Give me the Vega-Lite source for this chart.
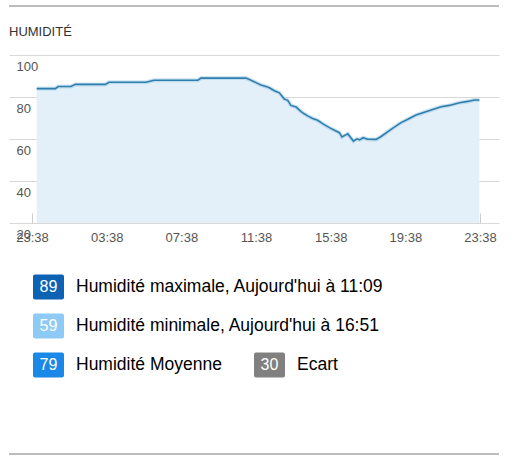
{
  "$schema": "https://vega.github.io/schema/vega-lite/v6.json",
  "padding": {"left": 8, "top": 5, "right": 19, "bottom": 10},
  "background": "white",
  "config": {"font": "Liberation Sans", "view": {"stroke": null}},
  "spacing": 0,
  "bounds": "flush",
  "vconcat": [
    {
      "width": 490,
      "height": 49,
      "data": {"values": [{"edge": "top"}]},
      "mark": {"type": "rule", "stroke": "#bdbdbd", "strokeWidth": 2},
      "encoding": {"y": {"value": 0}}
    },
    {
      "width": 490,
      "height": 168,
      "title": {"text": "HUMIDITÉ", "anchor": "start", "fontSize": 13, "fontWeight": "normal", "color": "#333333", "baseline": "alphabetic", "offset": 6, "font": "Liberation Sans"},
      "data": {"values": [
        {"t": "2024-01-01T23:53", "h": 84},
        {"t": "2024-01-02T00:53", "h": 84},
        {"t": "2024-01-02T01:02", "h": 85},
        {"t": "2024-01-02T01:43", "h": 85},
        {"t": "2024-01-02T01:57", "h": 86},
        {"t": "2024-01-02T03:34", "h": 86},
        {"t": "2024-01-02T03:45", "h": 87},
        {"t": "2024-01-02T05:44", "h": 87},
        {"t": "2024-01-02T06:10", "h": 88},
        {"t": "2024-01-02T08:31", "h": 88},
        {"t": "2024-01-02T08:41", "h": 89},
        {"t": "2024-01-02T11:06", "h": 89},
        {"t": "2024-01-02T11:22", "h": 88},
        {"t": "2024-01-02T11:43", "h": 86.5},
        {"t": "2024-01-02T11:54", "h": 85.7},
        {"t": "2024-01-02T12:10", "h": 85},
        {"t": "2024-01-02T12:21", "h": 84.4},
        {"t": "2024-01-02T12:37", "h": 83},
        {"t": "2024-01-02T12:53", "h": 82},
        {"t": "2024-01-02T13:09", "h": 79},
        {"t": "2024-01-02T13:20", "h": 78.4},
        {"t": "2024-01-02T13:30", "h": 76},
        {"t": "2024-01-02T13:47", "h": 75.2},
        {"t": "2024-01-02T14:03", "h": 73},
        {"t": "2024-01-02T14:13", "h": 72},
        {"t": "2024-01-02T14:24", "h": 71},
        {"t": "2024-01-02T14:40", "h": 69.8},
        {"t": "2024-01-02T14:56", "h": 68.9},
        {"t": "2024-01-02T15:12", "h": 67.3},
        {"t": "2024-01-02T15:34", "h": 65.4},
        {"t": "2024-01-02T15:55", "h": 63.8},
        {"t": "2024-01-02T16:06", "h": 63},
        {"t": "2024-01-02T16:14", "h": 61},
        {"t": "2024-01-02T16:33", "h": 62.5},
        {"t": "2024-01-02T16:51", "h": 59},
        {"t": "2024-01-02T17:03", "h": 60.1},
        {"t": "2024-01-02T17:11", "h": 59.6},
        {"t": "2024-01-02T17:22", "h": 60.6},
        {"t": "2024-01-02T17:37", "h": 59.9},
        {"t": "2024-01-02T18:04", "h": 59.8},
        {"t": "2024-01-02T18:20", "h": 61.2},
        {"t": "2024-01-02T18:52", "h": 64.6},
        {"t": "2024-01-02T19:24", "h": 67.8},
        {"t": "2024-01-02T19:46", "h": 69.4},
        {"t": "2024-01-02T20:12", "h": 71.4},
        {"t": "2024-01-02T20:34", "h": 72.5},
        {"t": "2024-01-02T21:01", "h": 73.8},
        {"t": "2024-01-02T21:33", "h": 75.4},
        {"t": "2024-01-02T21:59", "h": 76},
        {"t": "2024-01-02T22:32", "h": 77.3},
        {"t": "2024-01-02T22:58", "h": 77.9},
        {"t": "2024-01-02T23:20", "h": 78.6},
        {"t": "2024-01-02T23:36", "h": 78.6}
      ]},
      "encoding": {
        "x": {
          "field": "t", "type": "temporal",
          "scale": {"domain": [
            {"year": 2024, "month": 1, "date": 1, "hours": 22, "minutes": 24},
            {"year": 2024, "month": 1, "date": 3, "hours": 0, "minutes": 39}
          ]},
          "axis": {
            "title": null, "format": "%H:%M", "grid": false, "domain": false,
            "values": [
              {"year": 2024, "month": 1, "date": 1, "hours": 23, "minutes": 38},
              {"year": 2024, "month": 1, "date": 2, "hours": 3, "minutes": 38},
              {"year": 2024, "month": 1, "date": 2, "hours": 7, "minutes": 38},
              {"year": 2024, "month": 1, "date": 2, "hours": 11, "minutes": 38},
              {"year": 2024, "month": 1, "date": 2, "hours": 15, "minutes": 38},
              {"year": 2024, "month": 1, "date": 2, "hours": 19, "minutes": 38},
              {"year": 2024, "month": 1, "date": 2, "hours": 23, "minutes": 38}
            ],
            "ticks": true, "tickSize": -10, "tickColor": "#cccccc", "tickWidth": 1,
            "labelPadding": 18, "labelFontSize": 13, "labelColor": "#555555", "labelFlush": false,
            "labelOverlap": false
          }
        },
        "y": {
          "field": "h", "type": "quantitative",
          "scale": {"domain": [20, 100], "zero": false, "nice": false},
          "axis": {
            "title": null, "values": [20, 40, 60, 80, 100], "grid": true, "gridColor": "#d9d9d9",
            "domain": false, "ticks": false, "labelAlign": "left", "labelBaseline": "top",
            "labelPadding": -7, "labelOffset": 5, "labelFontSize": 13, "labelColor": "#555555",
            "labelFlush": false, "labelOverlap": false
          }
        }
      },
      "layer": [
        {"mark": {"type": "area", "color": "#e3f0f9", "opacity": 1}, "encoding": {"y2": {"datum": 20}}},
        {"mark": {"type": "line", "color": "#9cc7e3", "strokeWidth": 4, "opacity": 0.5}},
        {"mark": {"type": "line", "color": "#2f7fae", "strokeWidth": 1.6}}
      ]
    },
    {
      "width": 490,
      "height": 231,
      "data": {"values": [
        {"row": 1, "col": 1, "value": "89", "label": "Humidité maximale, Aujourd'hui à 11:09", "kind": "max"},
        {"row": 2, "col": 1, "value": "59", "label": "Humidité minimale, Aujourd'hui à 16:51", "kind": "min"},
        {"row": 3, "col": 1, "value": "79", "label": "Humidité Moyenne", "kind": "avg"},
        {"row": 3, "col": 2, "value": "30", "label": "Ecart", "kind": "range"}
      ]},
      "encoding": {
        "x": {"field": "col", "type": "quantitative", "scale": {"domain": [1, 2], "range": [39.5, 260.5], "zero": false, "nice": false}, "axis": null},
        "y": {"field": "row", "type": "quantitative", "scale": {"domain": [1, 3], "range": [64, 142], "zero": false, "nice": false}, "axis": null}
      },
      "layer": [
        {
          "mark": {"type": "rect", "xOffset": -15.5, "x2Offset": 15.5, "yOffset": -12.5, "y2Offset": 12.5, "cornerRadius": 2},
          "encoding": {
            "x2": {"field": "col"},
            "y2": {"field": "row"},
            "color": {"field": "kind", "type": "nominal", "scale": {"domain": ["max", "min", "avg", "range"], "range": ["#0d62b3", "#8ecaf6", "#1a88e6", "#808080"]}, "legend": null}
          }
        },
        {
          "mark": {"type": "text", "align": "center", "baseline": "middle", "fontSize": 16, "color": "white"},
          "encoding": {"text": {"field": "value"}}
        },
        {
          "mark": {"type": "text", "align": "left", "baseline": "middle", "fontSize": 17.5, "color": "#000000", "dx": 27.5},
          "encoding": {"text": {"field": "label"}}
        },
        {
          "data": {"values": [{"edge": "bottom"}]},
          "mark": {"type": "rule", "stroke": "#bdbdbd", "strokeWidth": 2},
          "encoding": {"y": {"value": "height"}, "x": {"value": 0}, "x2": {"value": "width"}}
        }
      ]
    }
  ]
}
